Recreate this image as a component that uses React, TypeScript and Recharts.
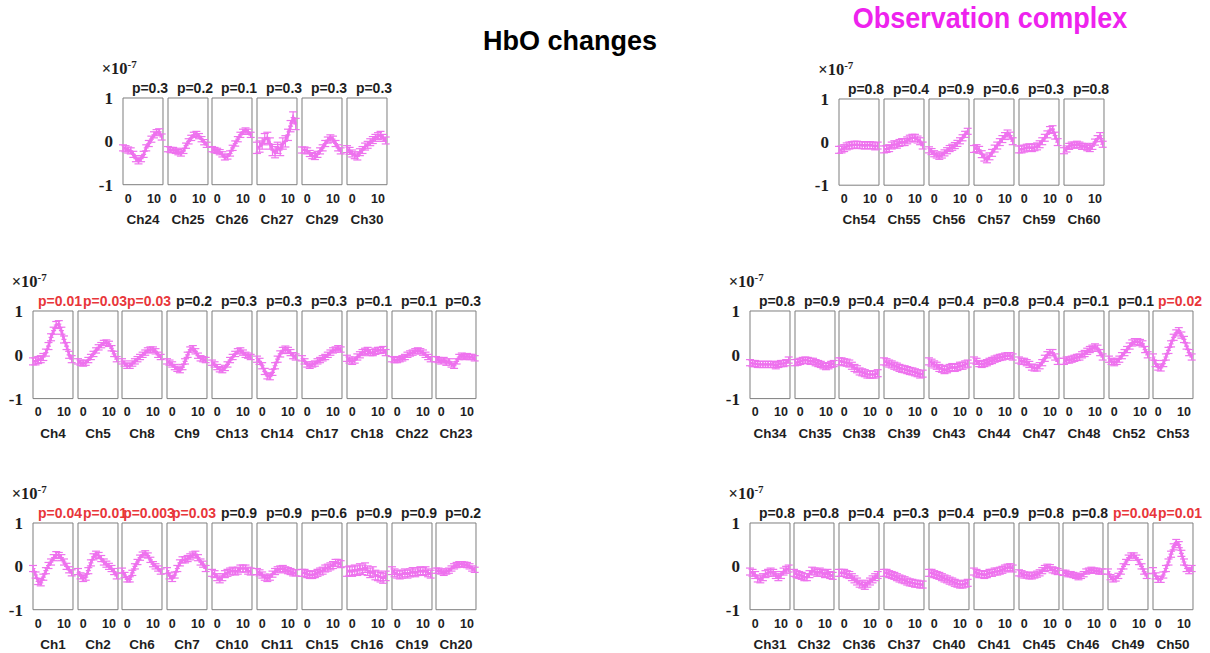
import React from 'react';
import { LineChart, Line, XAxis, YAxis, ReferenceArea, ErrorBar } from 'recharts';

const time = [-2, -1, 0, 1, 2, 3, 4, 5, 6, 7, 8, 9, 10, 11, 12, 13];
const xTicks = [0, 10];
const yTicks = [-1, 0, 1];

// ---- Top-left group ----
const ch24 = [-0.15, -0.17, -0.2, -0.22, -0.3, -0.4, -0.45, -0.4, -0.3, -0.15, -0.05, 0.05, 0.15, 0.2, 0.22, 0.1];
const ch25 = [-0.18, -0.2, -0.2, -0.22, -0.25, -0.28, -0.22, -0.1, 0, 0.08, 0.15, 0.17, 0.12, 0.05, -0.02, -0.08];
const ch26 = [-0.18, -0.2, -0.22, -0.25, -0.3, -0.37, -0.35, -0.28, -0.15, -0.05, 0.05, 0.15, 0.22, 0.25, 0.22, 0.15];
const ch27 = [-0.15, -0.12, -0.05, 0.05, 0.08, -0.05, -0.2, -0.25, -0.15, -0.2, -0.05, 0, 0.15, 0.35, 0.55, 0.4];
const ch29 = [-0.2, -0.2, -0.22, -0.28, -0.33, -0.35, -0.3, -0.22, -0.15, -0.05, 0.03, 0.08, 0.05, -0.05, -0.15, -0.22];
const ch30 = [-0.18, -0.22, -0.28, -0.32, -0.35, -0.25, -0.2, -0.12, -0.08, -0.02, 0.03, 0.08, 0.12, 0.15, 0.08, 0.02];
const tlNames = ['Ch24', 'Ch25', 'Ch26', 'Ch27', 'Ch29', 'Ch30'];
const tlP = ['0.3', '0.2', '0.1', '0.3', '0.3', '0.3'];
const tlErr = [0.07, 0.06, 0.06, 0.13, 0.07, 0.08];
const tlSeries = [ch24, ch25, ch26, ch27, ch29, ch30];

// ---- Top-right group ----
const ch54 = [-0.18, -0.17, -0.14, -0.1, -0.08, -0.07, -0.06, -0.06, -0.07, -0.07, -0.08, -0.07, -0.07, -0.08, -0.1, -0.08];
const ch55 = [-0.17, -0.16, -0.14, -0.08, -0.05, -0.06, -0.02, 0, 0, 0.04, 0.08, 0.1, 0.1, 0.06, 0.02, -0.08];
const ch56 = [-0.18, -0.22, -0.27, -0.3, -0.33, -0.3, -0.25, -0.2, -0.15, -0.12, -0.08, -0.03, 0.03, 0.1, 0.18, 0.25];
const ch57 = [-0.16, -0.14, -0.18, -0.28, -0.36, -0.4, -0.33, -0.25, -0.15, -0.08, 0, 0.07, 0.14, 0.2, 0.15, 0.02];
const ch59 = [-0.17, -0.17, -0.15, -0.13, -0.12, -0.14, -0.12, -0.1, -0.05, 0.02, 0.1, 0.18, 0.28, 0.3, 0.15, 0];
const ch60 = [-0.2, -0.16, -0.1, -0.07, -0.07, -0.05, -0.07, -0.1, -0.1, -0.13, -0.15, -0.1, 0, 0.08, 0.15, -0.05];
const trNames = ['Ch54', 'Ch55', 'Ch56', 'Ch57', 'Ch59', 'Ch60'];
const trP = ['0.8', '0.4', '0.9', '0.6', '0.3', '0.8'];
const trErr = [0.08, 0.08, 0.07, 0.08, 0.08, 0.07];
const trSeries = [ch54, ch55, ch56, ch57, ch59, ch60];

// ---- Middle-left group ----
const ch4 = [-0.15, -0.15, -0.12, -0.1, -0.05, 0.05, 0.2, 0.4, 0.55, 0.68, 0.7, 0.55, 0.35, 0.2, 0, -0.1];
const ch5 = [-0.15, -0.18, -0.2, -0.18, -0.12, -0.05, 0.02, 0.1, 0.17, 0.22, 0.27, 0.28, 0.25, 0.15, 0.02, -0.1];
const ch8 = [-0.15, -0.2, -0.25, -0.25, -0.2, -0.15, -0.1, -0.05, 0, 0.05, 0.1, 0.12, 0.12, 0.08, 0, -0.05];
const ch9 = [-0.15, -0.18, -0.22, -0.28, -0.32, -0.35, -0.28, -0.15, 0, 0.12, 0.15, 0.08, -0.02, -0.08, -0.1, -0.12];
const ch13 = [-0.18, -0.22, -0.28, -0.33, -0.35, -0.3, -0.22, -0.12, -0.05, 0.02, 0.08, 0.1, 0.05, 0, -0.02, -0.05];
const ch14 = [-0.1, -0.15, -0.25, -0.38, -0.48, -0.5, -0.4, -0.25, -0.1, 0.02, 0.1, 0.13, 0.1, 0.05, -0.02, -0.05];
const ch17 = [-0.08, -0.15, -0.22, -0.25, -0.22, -0.2, -0.15, -0.12, -0.08, -0.05, 0, 0.05, 0.1, 0.12, 0.15, 0.12];
const ch18 = [-0.08, -0.12, -0.15, -0.12, -0.05, 0, 0.05, 0.08, 0.1, 0.05, 0.05, 0.08, 0.1, 0.1, 0.12, 0.05];
const ch22 = [-0.1, -0.12, -0.12, -0.1, -0.08, -0.05, 0, 0.03, 0.05, 0.08, 0.1, 0.08, 0.05, 0, -0.05, -0.1];
const ch23 = [-0.1, -0.12, -0.15, -0.12, -0.18, -0.15, -0.22, -0.25, -0.15, -0.05, -0.02, -0.05, -0.03, -0.05, -0.05, -0.08];
const mlNames = ['Ch4', 'Ch5', 'Ch8', 'Ch9', 'Ch13', 'Ch14', 'Ch17', 'Ch18', 'Ch22', 'Ch23'];
const mlP = ['0.01', '0.03', '0.03', '0.2', '0.3', '0.3', '0.3', '0.1', '0.1', '0.3'];
const mlErr = [0.08, 0.06, 0.06, 0.06, 0.06, 0.07, 0.06, 0.07, 0.06, 0.06];
const mlSeries = [ch4, ch5, ch8, ch9, ch13, ch14, ch17, ch18, ch22, ch23];

// ---- Bottom-left group ----
const ch1 = [-0.05, -0.2, -0.35, -0.38, -0.25, -0.1, 0.02, 0.1, 0.2, 0.27, 0.25, 0.2, 0.1, 0, -0.08, -0.15];
const ch2 = [-0.12, -0.22, -0.28, -0.25, -0.1, 0.08, 0.22, 0.28, 0.25, 0.18, 0.1, 0.05, 0, -0.05, -0.12, -0.22];
const ch6 = [-0.1, -0.2, -0.3, -0.3, -0.15, 0, 0.1, 0.2, 0.27, 0.3, 0.25, 0.15, 0.05, 0, -0.05, -0.12];
const ch7 = [-0.1, -0.22, -0.28, -0.2, -0.05, 0.08, 0.15, 0.15, 0.18, 0.22, 0.26, 0.28, 0.2, 0.1, 0.05, -0.05];
const ch10 = [-0.15, -0.18, -0.25, -0.3, -0.25, -0.18, -0.15, -0.12, -0.1, -0.12, -0.1, -0.05, -0.05, -0.05, -0.1, -0.12];
const ch11 = [-0.12, -0.15, -0.2, -0.25, -0.28, -0.25, -0.18, -0.12, -0.08, -0.06, -0.05, -0.08, -0.1, -0.12, -0.15, -0.15];
const ch15 = [-0.15, -0.15, -0.18, -0.2, -0.2, -0.18, -0.15, -0.12, -0.1, -0.05, -0.03, 0, 0.03, 0.08, 0.08, 0.05];
const ch16 = [-0.12, -0.1, -0.12, -0.08, -0.1, -0.05, -0.08, -0.03, -0.1, -0.15, -0.12, -0.2, -0.22, -0.25, -0.28, -0.22];
const ch19 = [-0.1, -0.15, -0.18, -0.2, -0.18, -0.15, -0.18, -0.15, -0.12, -0.15, -0.12, -0.1, -0.12, -0.1, -0.15, -0.18];
const ch20 = [-0.1, -0.1, -0.12, -0.15, -0.12, -0.1, -0.05, 0, 0.03, 0.05, 0.05, 0.04, 0.03, 0, -0.05, -0.08];
const blNames = ['Ch1', 'Ch2', 'Ch6', 'Ch7', 'Ch10', 'Ch11', 'Ch15', 'Ch16', 'Ch19', 'Ch20'];
const blP = ['0.04', '0.01', '0.003', '0.03', '0.9', '0.9', '0.6', '0.9', '0.9', '0.2'];
const blErr = [0.07, 0.07, 0.06, 0.07, 0.08, 0.07, 0.08, 0.11, 0.09, 0.06];
const blSeries = [ch1, ch2, ch6, ch7, ch10, ch11, ch15, ch16, ch19, ch20];

// ---- Middle-right group ----
const ch34 = [-0.18, -0.2, -0.2, -0.22, -0.22, -0.22, -0.22, -0.22, -0.22, -0.22, -0.25, -0.22, -0.2, -0.2, -0.18, -0.12];
const ch35 = [-0.18, -0.17, -0.15, -0.13, -0.12, -0.13, -0.15, -0.15, -0.18, -0.2, -0.22, -0.25, -0.27, -0.25, -0.22, -0.2];
const ch38 = [-0.15, -0.15, -0.17, -0.18, -0.2, -0.25, -0.3, -0.33, -0.38, -0.4, -0.42, -0.45, -0.45, -0.45, -0.45, -0.42];
const ch39 = [-0.15, -0.17, -0.2, -0.22, -0.25, -0.27, -0.3, -0.32, -0.33, -0.35, -0.37, -0.38, -0.4, -0.42, -0.45, -0.43];
const ch43 = [-0.15, -0.18, -0.22, -0.25, -0.3, -0.32, -0.35, -0.33, -0.3, -0.28, -0.3, -0.28, -0.25, -0.25, -0.22, -0.2];
const ch44 = [-0.12, -0.15, -0.2, -0.22, -0.2, -0.18, -0.15, -0.13, -0.1, -0.08, -0.06, -0.05, -0.03, -0.02, -0.02, -0.05];
const ch47 = [-0.12, -0.15, -0.15, -0.18, -0.22, -0.28, -0.3, -0.3, -0.25, -0.18, -0.08, 0, 0.05, 0.05, -0.05, -0.15];
const ch48 = [-0.15, -0.12, -0.12, -0.1, -0.08, -0.06, -0.05, 0, 0.03, 0.08, 0.12, 0.15, 0.18, 0.15, 0.05, -0.05];
const ch52 = [-0.1, -0.15, -0.18, -0.15, -0.1, -0.02, 0.05, 0.12, 0.2, 0.27, 0.3, 0.3, 0.28, 0.25, 0.12, 0];
const ch53 = [-0.05, -0.2, -0.28, -0.3, -0.2, -0.05, 0.1, 0.25, 0.4, 0.5, 0.55, 0.45, 0.35, 0.2, 0.05, -0.05];
const mrNames = ['Ch34', 'Ch35', 'Ch38', 'Ch39', 'Ch43', 'Ch44', 'Ch47', 'Ch48', 'Ch52', 'Ch53'];
const mrP = ['0.8', '0.9', '0.4', '0.4', '0.4', '0.8', '0.4', '0.1', '0.1', '0.02'];
const mrErr = [0.07, 0.07, 0.08, 0.08, 0.08, 0.07, 0.07, 0.07, 0.07, 0.07];
const mrSeries = [ch34, ch35, ch38, ch39, ch43, ch44, ch47, ch48, ch52, ch53];

// ---- Bottom-right group ----
const ch31 = [-0.12, -0.15, -0.2, -0.28, -0.3, -0.25, -0.18, -0.15, -0.12, -0.15, -0.2, -0.25, -0.2, -0.12, -0.08, -0.05];
const ch32 = [-0.15, -0.18, -0.2, -0.22, -0.25, -0.25, -0.18, -0.1, -0.12, -0.15, -0.12, -0.15, -0.18, -0.15, -0.2, -0.22];
const ch36 = [-0.15, -0.15, -0.15, -0.18, -0.2, -0.25, -0.3, -0.35, -0.4, -0.42, -0.45, -0.4, -0.35, -0.3, -0.25, -0.2];
const ch37 = [-0.15, -0.15, -0.18, -0.2, -0.22, -0.25, -0.28, -0.3, -0.32, -0.35, -0.37, -0.38, -0.4, -0.4, -0.42, -0.42];
const ch40 = [-0.15, -0.15, -0.18, -0.2, -0.22, -0.25, -0.28, -0.3, -0.33, -0.35, -0.38, -0.4, -0.42, -0.42, -0.4, -0.38];
const ch41 = [-0.12, -0.15, -0.18, -0.18, -0.2, -0.18, -0.15, -0.15, -0.12, -0.12, -0.1, -0.08, -0.05, -0.03, -0.02, -0.05];
const ch45 = [-0.15, -0.17, -0.2, -0.2, -0.22, -0.22, -0.2, -0.18, -0.15, -0.1, -0.05, -0.02, -0.03, -0.08, -0.1, -0.12];
const ch46 = [-0.15, -0.15, -0.18, -0.18, -0.2, -0.22, -0.25, -0.22, -0.18, -0.12, -0.1, -0.08, -0.1, -0.1, -0.12, -0.12];
const ch49 = [-0.12, -0.25, -0.3, -0.28, -0.22, -0.12, 0, 0.1, 0.2, 0.25, 0.25, 0.2, 0.1, 0, -0.12, -0.22];
const ch50 = [-0.1, -0.22, -0.3, -0.3, -0.2, -0.05, 0.1, 0.28, 0.45, 0.55, 0.5, 0.3, 0.1, -0.05, -0.1, -0.05];
const brNames = ['Ch31', 'Ch32', 'Ch36', 'Ch37', 'Ch40', 'Ch41', 'Ch45', 'Ch46', 'Ch49', 'Ch50'];
const brP = ['0.8', '0.8', '0.4', '0.3', '0.4', '0.9', '0.8', '0.8', '0.04', '0.01'];
const brErr = [0.08, 0.08, 0.08, 0.08, 0.08, 0.08, 0.07, 0.06, 0.06, 0.07];
const brSeries = [ch31, ch32, ch36, ch37, ch40, ch41, ch45, ch46, ch49, ch50];

const MAGENTA = '#ee72ee';
const RED = '#e8363a';
const INK = '#1e1e1e';
const SANS = "'Liberation Sans', Arial, Helvetica, sans-serif";
const SERIF = "'Liberation Serif', 'Times New Roman', serif";

const BOX_W = 40;
const SPACING = 44.85;
const M_L = 14;
const M_R = 14;
const M_T = 24;
const X_H = 42;
const Y_W = 34;

type PanelProps = {
  name: string;
  values: number[];
  err: number;
  p: string;
  left: number;
  top: number;
  height: number;
  first: boolean;
};

const plusDot = (props: any) => {
  const { cx, cy, index } = props;
  if (cx == null || cy == null) return <g key={index} />;
  return (
    <path
      key={index}
      d={`M${cx - 2.5},${cy}h5M${cx},${cy - 2.5}v5`}
      stroke={MAGENTA}
      strokeWidth={1.2}
      fill="none"
    />
  );
};

function Panel({ name, values, err, p, left, top, height, first }: PanelProps) {
  const data = time.map((t, i) => ({ t, v: values[i], e: err }));
  const sig = parseFloat(p) < 0.05;
  const yw = first ? Y_W : 0;
  const width = BOX_W + M_L + M_R + yw;
  const pText = 'p=' + p;
  return (
    <div style={{ position: 'absolute', left: left - M_L - yw, top: top - M_T }}>
      <LineChart
        width={width}
        height={height + M_T + X_H}
        data={data}
        margin={{ top: M_T, right: M_R, left: M_L, bottom: 0 }}
      >
        <XAxis
          dataKey="t"
          type="number"
          domain={[-2, 13.5]}
          ticks={xTicks}
          interval={0}
          allowDataOverflow
          axisLine={false}
          tickLine={false}
          tickSize={6}
          tickMargin={3}
          height={X_H}
          tick={{ fontSize: 12.5, fontWeight: 700, fill: INK, fontFamily: SANS }}
          label={{
            value: name,
            position: 'insideBottom',
            offset: 3,
            fontSize: 13.5,
            fontWeight: 700,
            fill: INK,
            fontFamily: SANS,
          }}
        />
        {first ? (
          <YAxis
            type="number"
            domain={[-1, 1]}
            ticks={yTicks}
            interval={0}
            allowDataOverflow
            axisLine={false}
            tickLine={false}
            tickSize={6}
            tickMargin={4}
            width={Y_W}
            tick={{ fontSize: 17, fontWeight: 700, fill: INK, fontFamily: SERIF }}
          />
        ) : (
          <YAxis type="number" domain={[-1, 1]} allowDataOverflow hide />
        )}
        <ReferenceArea
          x1={-2}
          x2={13.5}
          y1={-1}
          y2={1}
          fill="none"
          stroke="#7d7d7d"
          strokeWidth={1}
          ifOverflow="visible"
          label={(lp: any) => {
            const vb = lp.viewBox || {};
            return (
              <text
                x={(vb.x ?? 0) + (vb.width ?? 0) / 2 + 7}
                y={(vb.y ?? 0) - 5}
                textAnchor="middle"
                fontSize={14}
                fontWeight={700}
                fill={sig ? RED : INK}
                fontFamily={SANS}
              >
                {pText}
              </text>
            );
          }}
        />
        <Line
          dataKey="v"
          type="linear"
          stroke={MAGENTA}
          strokeWidth={2.6}
          dot={plusDot}
          activeDot={false}
          isAnimationActive={false}
        >
          <ErrorBar dataKey="e" width={4} stroke={MAGENTA} strokeWidth={1.2} direction="y" />
        </Line>
      </LineChart>
    </div>
  );
}

type Group = {
  names: string[];
  series: number[][];
  p: string[];
  err: number[];
  left: number;
  top: number;
  height: number;
};

const groups: Group[] = [
  { names: tlNames, series: tlSeries, p: tlP, err: tlErr, left: 122.7, top: 98.3, height: 86.7 },
  { names: trNames, series: trSeries, p: trP, err: trErr, left: 839.3, top: 99.3, height: 86.2 },
  { names: mlNames, series: mlSeries, p: mlP, err: mlErr, left: 32.7, top: 310.7, height: 87.6 },
  { names: blNames, series: blSeries, p: blP, err: blErr, left: 32.7, top: 523.3, height: 86.7 },
  { names: mrNames, series: mrSeries, p: mrP, err: mrErr, left: 749.7, top: 310.7, height: 87.6 },
  { names: brNames, series: brSeries, p: brP, err: brErr, left: 749.5, top: 523.3, height: 86.7 },
];

export default function App() {
  return (
    <div
      style={{
        position: 'absolute',
        left: 0,
        top: 0,
        width: 1210,
        height: 653,
        background: '#ffffff',
        overflow: 'hidden',
      }}
    >
      <div
        style={{
          position: 'absolute',
          left: 470,
          top: 25,
          width: 200,
          textAlign: 'center',
          fontFamily: SANS,
          fontWeight: 700,
          fontSize: 27,
          lineHeight: '32px',
          color: '#000',
        }}
      >
        HbO changes
      </div>
      <div
        style={{
          position: 'absolute',
          left: 840,
          top: 1,
          width: 300,
          textAlign: 'center',
          fontFamily: SANS,
          fontWeight: 700,
          fontSize: 27,
          lineHeight: '34px',
          color: '#ee22ee',
          transform: 'scaleY(1.12)',
        }}
      >
        Observation complex
      </div>
      {groups.map((g, gi) => (
        <React.Fragment key={gi}>
          <div
            style={{
              position: 'absolute',
              left: g.left - 21,
              top: g.top - 38,
              fontFamily: SERIF,
              fontWeight: 700,
              fontSize: 16.5,
              lineHeight: '18px',
              color: INK,
              whiteSpace: 'nowrap',
            }}
          >
            ×10<sup style={{ fontSize: 11, verticalAlign: 'super', lineHeight: 0 }}>-7</sup>
          </div>
          {g.names.map((n, i) => (
            <Panel
              key={n}
              name={n}
              values={g.series[i]}
              err={g.err[i]}
              p={g.p[i]}
              left={g.left + i * SPACING}
              top={g.top}
              height={g.height}
              first={i === 0}
            />
          ))}
        </React.Fragment>
      ))}
    </div>
  );
}
